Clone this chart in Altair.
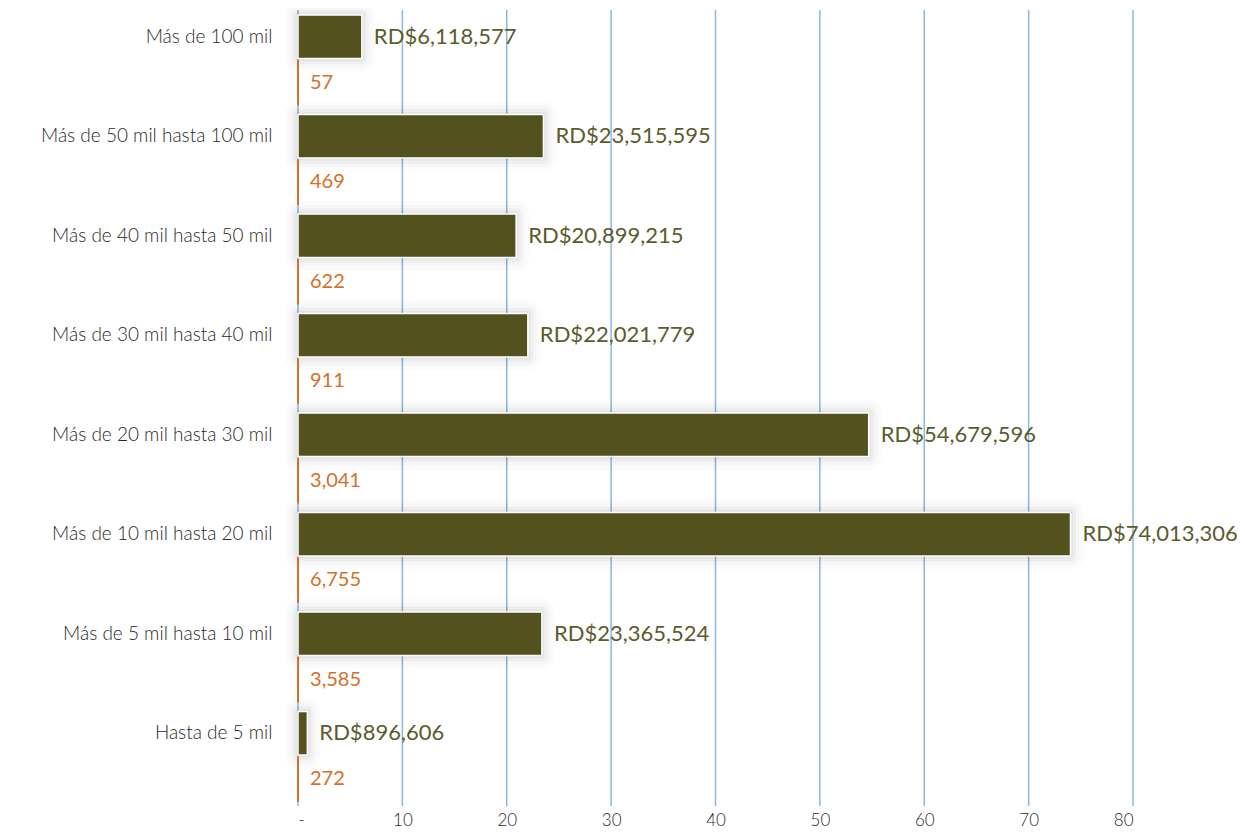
import altair as alt
import pandas as pd

categorias = [
    "Más de 100 mil",
    "Más de 50 mil hasta 100 mil",
    "Más de 40 mil hasta 50 mil",
    "Más de 30 mil hasta 40 mil",
    "Más de 20 mil hasta 30 mil",
    "Más de 10 mil hasta 20 mil",
    "Más de 5 mil hasta 10 mil",
    "Hasta de 5 mil",
]
montos = [6118577, 23515595, 20899215, 22021779, 54679596, 74013306, 23365524, 896606]
cantidades = [57, 469, 622, 911, 3041, 6755, 3585, 272]
x_ticks = [0, 10, 20, 30, 40, 50, 60, 70, 80]

OLIVE = "#53521f"
OLIVE_TXT = "#5c5b2c"
ORANGE = "#d5702a"
GRID = "#8ab8e2"
FONT = "Lato"

rows = []
for c, m, n in zip(categorias, montos, cantidades):
    rows.append({"cat": c, "serie": "a_monto", "valor": m / 1e6,
                 "label": "RD$" + f"{m:,}"})
    rows.append({"cat": c, "serie": "b_cant", "valor": n / 1e6,
                 "label": f"{n:,}"})
df = pd.DataFrame(rows)

yenc = alt.Y("cat:N", sort=categorias,
             scale=alt.Scale(paddingInner=0.1, paddingOuter=0.05),
             axis=alt.Axis(title=None, domain=False, ticks=False,
                           labelFont=FONT, labelFontSize=19, labelFontWeight=300,
                           labelColor="#2a2a2a",
                           labelPadding=26, labelOffset=-23, labelLimit=400))
yoff = alt.YOffset("serie:N", scale=alt.Scale(paddingInner=0.05))
xscale = alt.Scale(domain=[0, 80], nice=False)

base = alt.Chart(df).encode(y=yenc, yOffset=yoff)

grid = alt.Chart(pd.DataFrame({"t": x_ticks})).mark_rule(color=GRID, strokeWidth=1.5).encode(
    x=alt.X("t:Q", scale=xscale,
            axis=alt.Axis(title=None, values=x_ticks, grid=False, domain=False, ticks=False,
                          labelFont=FONT, labelFontSize=17, labelFontWeight=300,
                          labelColor="#2a2a2a",
                          labelPadding=6,
                          labelExpr="datum.value == 0 ? '-' : datum.label")),
    y=alt.value(0), y2=alt.value(796),
)

monto = base.transform_filter("datum.serie == 'a_monto'")
cant = base.transform_filter("datum.serie == 'b_cant'")

shadows = [
    monto.mark_bar(fill="#000", fillOpacity=0, stroke="#000", strokeWidth=w,
                   strokeOpacity=o, strokeJoin="round").encode(
        x=alt.X("valor:Q", scale=xscale))
    for w, o in [(26, 0.015), (18, 0.02), (11, 0.03), (5, 0.04)]
]
bars = monto.mark_bar(color=OLIVE, stroke="white", strokeWidth=1.5).encode(
    x=alt.X("valor:Q", scale=xscale))
bars_txt = monto.mark_text(align="left", baseline="middle", dx=12, font=FONT,
                           fontSize=22, color=OLIVE_TXT).encode(
    x=alt.X("valor:Q", scale=xscale), text="label:N")

cbars = cant.mark_bar(color=ORANGE, stroke=ORANGE, strokeWidth=2).encode(
    x=alt.X("valor:Q", scale=xscale))
cbars_txt = cant.mark_text(align="left", baseline="middle", dx=12, font=FONT,
                           fontSize=20, color=ORANGE).encode(
    x=alt.X("valor:Q", scale=xscale), text="label:N")

chart = alt.layer(grid, *shadows, bars, bars_txt, cbars, cbars_txt).properties(
    width=835, height=796,
    autosize=alt.AutoSizeParams(type="none"),
    padding={"left": 290, "top": 2, "right": 104, "bottom": 23},
).configure_view(stroke=None)

chart.save("out.html", embed_options={"renderer": "svg", "actions": False})
